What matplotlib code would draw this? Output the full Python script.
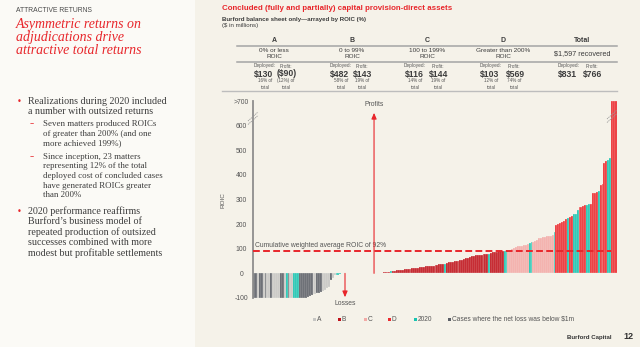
import numpy as np
import matplotlib
matplotlib.use("Agg")
import matplotlib.pyplot as plt
from matplotlib.lines import Line2D
from matplotlib.patches import Rectangle

W, H = 640, 347

# ROIC (%) of concluded cases, sorted; losses first, then profits
loss_roic = [-100, -100, -100, -100, -100, -100, -100,
             -100, -100, -100, -100, -100, -100, -100,
             -100, -100, -100, -100, -100, -100, -100,
             -100, -100, -100, -100, -100, -100, -98, -96,
             -92, -88, -84, -82, -80, -78, -74, -70, -66, -60, -55,
             -28, -20, -7, -5, -5, -4]
loss_cat = ['G', 'G', 'A', 'G', 'G', 'A', 'G',
            'A', 'A', 'G', 'A', 'A', 'A', 'A',
            'G', 'G', 'A', 'T', 'G', 'A', 'A',
            'T', 'T', 'T', 'G', 'G', 'G', 'G', 'G',
            'G', 'G', 'A', 'A', 'G', 'G', 'G', 'A', 'A', 'A', 'A',
            'G', 'A', 'A', 'T', 'T', 'T']

profit_roic = [1, 1, 2,
               3, 4, 5, 6, 7,
               8,
               10, 11, 12, 13, 14, 15, 16, 17, 18, 19, 20, 21, 22, 23, 24, 25,
               27, 28, 29, 30, 30, 31, 32,
               36, 37, 38, 38,
               40,
               44, 45, 46, 48, 50, 51, 52, 53, 55,
               60, 61, 63, 66, 70, 72, 73, 74, 75, 76, 77, 78, 79,
               80,
               84, 85, 86, 87, 90, 91, 92,
               92, 93,
               94, 96, 99, 103, 106, 110, 112, 113, 114, 116, 118,
               124, 126,
               128, 132, 137, 142, 145, 146, 148, 150, 152, 153, 155,
               166,
               196, 200, 206, 210, 214, 219,
               223,
               230, 232,
               240, 242, 257,
               270, 271, 274, 278,
               279, 280,
               282, 325, 328, 332,
               336,
               359, 362, 447, 456,
               462, 467,
               700, 700, 700]
profit_cat = (['C'] * 3 + ['B'] * 5 + ['T'] + ['B'] * 16 + ['B'] * 7 + ['B'] * 4
              + ['T'] + ['B'] * 9 + ['B'] * 13 + ['T'] + ['B'] * 7 + ['T'] * 2
              + ['C'] * 11 + ['T'] * 2 + ['C'] * 11 + ['T'] + ['D'] * 6 + ['T']
              + ['D'] * 2 + ['T'] * 3 + ['D'] * 4 + ['T'] * 2 + ['D'] * 4
              + ['T'] + ['D'] * 4 + ['T'] * 2 + ['D'] * 3)

avg_roic = 92

col_letters = ['A', 'B', 'C', 'D', 'Total']
col_ranges = ['0% or less\nROIC', '0 to 99%\nROIC', '100 to 199%\nROIC',
              'Greater than 200%\nROIC', '$1,597 recovered']
deployed = ['$130', '$482', '$116', '$103', '$831']
profit = ['($90)', '$143', '$144', '$569', '$766']
deployed_pct = ['16% of\ntotal', '58% of\ntotal', '14% of\ntotal', '12% of\ntotal', '']
profit_pct = ['(12%) of\ntotal', '19% of\ntotal', '19% of\ntotal', '74% of\ntotal', '']

legend_keys = ['A', 'B', 'C', 'D', 'T', 'G']
legend_labels = ['A', 'B', 'C', 'D', '2020', 'Cases where the net loss was below $1m']

colors = {'G': '#5b5f66', 'A': '#c6c6c3', 'B': '#c0111a', 'C': '#f3aaa6',
          'D': '#ec2a2e', 'T': '#16c4b1'}
red = '#e8262b'
txt = '#3c3c3c'
bg_right = '#f5f2e9'
bg_left = '#fbfaf6'

sans = ['Liberation Sans', 'DejaVu Sans']
serif = ['Liberation Serif', 'DejaVu Serif']


def fx(x):
    return x / W


def fy(y):
    return 1 - y / H


def hline(x1, x2, y, **kw):
    fig.add_artist(Line2D([fx(x1), fx(x2)], [fy(y), fy(y)],
                          transform=fig.transFigure, **kw))


fig = plt.figure(figsize=(W / 100, H / 100), dpi=100)
fig.patch.set_facecolor(bg_right)
fig.add_artist(Rectangle((0, 0), fx(195), 1, transform=fig.transFigure,
                         facecolor=bg_left, edgecolor='none', zorder=0))

# left panel text
fig.text(fx(16), fy(10), 'ATTRACTIVE RETURNS', fontsize=4.9, color='#4a4a4a',
         family=sans, va='center')
for i, line in enumerate(['Asymmetric returns on', 'adjudications drive',
                          'attractive total returns']):
    fig.text(fx(16), fy(28 + 13 * i), line, fontsize=10, color=red,
             family=serif, style='italic', va='baseline')

bullets = [
    (0, 101, 'Realizations during 2020 included'),
    (0, 111, 'a number with outsized returns'),
    (1, 124, 'Seven matters produced ROICs'),
    (2, 134, 'of greater than 200% (and one'),
    (2, 143, 'more achieved 199%)'),
    (1, 157, 'Since inception, 23 matters'),
    (2, 166, 'representing 12% of the total'),
    (2, 176, 'deployed cost of concluded cases'),
    (2, 185.5, 'have generated ROICs greater'),
    (2, 195, 'than 200%'),
    (0, 211, '2020 performance reaffirms'),
    (0, 221.5, 'Burford\u2019s business model of'),
    (0, 232, 'repeated production of outsized'),
    (0, 242.5, 'successes combined with more'),
    (0, 253, 'modest but profitable settlements'),
]
first_main = {101, 211}
for lvl, y, s in bullets:
    if lvl == 0:
        fig.text(fx(28), fy(y), s, fontsize=7.2, color=txt, family=serif, va='center')
        if y in first_main:
            fig.text(fx(17), fy(y), '\u2022', fontsize=6, color=red, va='center')
    else:
        fig.text(fx(43), fy(y), s, fontsize=6.4, color=txt, family=serif, va='center')
        if lvl == 1:
            fig.text(fx(30), fy(y), '\u2013', fontsize=6, color=red, va='center')

# header on the right
fig.text(fx(222), fy(9), 'Concluded (fully and partially) capital provision-direct assets',
         fontsize=5.7, color=red, family=sans, weight='bold', va='center')
fig.text(fx(222), fy(19), 'Burford balance sheet only\u2014arrayed by ROIC (%)',
         fontsize=4.4, color=txt, family=sans, weight='bold', va='center')
fig.text(fx(222), fy(26), '($ in millions)', fontsize=4.4, color=txt, family=sans, va='center')

# summary table
centers = [274, 352, 427, 503, 582]
dep_x = [265, 341, 415, 491, 569]
pro_x = [286, 362, 438, 514, 592]
for k in range(5):
    fig.text(fx(centers[k]), fy(41), col_letters[k], fontsize=5, color=txt,
             family=sans, weight='bold', ha='center', va='center')
    y_rng = 54 if k == 4 else 53.5
    fig.text(fx(centers[k]), fy(y_rng), col_ranges[k], fontsize=4.6 if k < 4 else 5.2,
             color=txt, family=sans, ha='center', va='center', linespacing=1.15)
    fig.text(fx(dep_x[k]), fy(66), 'Deployed:', fontsize=3.4, color='#555555',
             family=sans, ha='center', va='center')
    fig.text(fx(pro_x[k]), fy(66), 'Profit:', fontsize=3.4, color='#555555',
             family=sans, ha='center', va='center')
    fig.text(fx(dep_x[k] - 1), fy(74), deployed[k], fontsize=6.2, color=txt,
             family=sans, weight='bold', ha='center', va='center')
    fig.text(fx(pro_x[k] + 1), fy(74), profit[k], fontsize=6.2, color=txt,
             family=sans, weight='bold', ha='center', va='center')
    if deployed_pct[k]:
        fig.text(fx(dep_x[k]), fy(84), deployed_pct[k], fontsize=3.3, color='#555555',
                 family=sans, ha='center', va='center', linespacing=1.3)
        fig.text(fx(pro_x[k]), fy(84), profit_pct[k], fontsize=3.3, color='#555555',
                 family=sans, ha='center', va='center', linespacing=1.3)
for y in (45.5, 62):
    hline(237, 617, y, color='#a4a4a4', lw=1.1)
hline(222, 617, 90.5, color='#bdbdbd', lw=1.0)

# bar chart
pitch = 1.92
ax = fig.add_axes([fx(253), fy(298), (620 - 253) / W, (298 - 101) / H])
ax.set_facecolor('none')
x_loss = np.arange(len(loss_roic))
x_profit = (375 - 253) / pitch + np.arange(len(profit_roic))
ax.bar(x_loss, loss_roic, width=1, align='edge',
       color=[colors[c] for c in loss_cat], edgecolor='#f7f5ef', linewidth=0.18)
ax.bar(x_profit, profit_roic, width=1, align='edge',
       color=[colors[c] for c in profit_cat], edgecolor='#f7f5ef', linewidth=0.18)
ax.plot([0, x_profit[-3]], [avg_roic, avg_roic], color=red, lw=1.4,
        ls=(0, (3.5, 1.7)), zorder=5)
ax.text(1, avg_roic + 22, 'Cumulative weighted average ROIC of 92%', fontsize=4.9,
        color='#555555', family=sans, va='center')

# profit / loss arrows
xp = x_profit[0] - 0.5
ax.annotate('', xy=(xp, 652), xytext=(xp, 0),
            arrowprops=dict(arrowstyle='-|>,head_length=0.35,head_width=0.15',
                            color=red, lw=0.8, shrinkA=0, shrinkB=0))
ax.text(xp, 686, 'Profits', fontsize=4.9, color='#555555', family=sans,
        ha='center', va='center')
xl = (345 - 253) / pitch
ax.annotate('', xy=(xl, -97), xytext=(xl, 0), annotation_clip=False,
            arrowprops=dict(arrowstyle='-|>,head_length=0.35,head_width=0.15',
                            color=red, lw=0.8, shrinkA=0, shrinkB=0))
ax.text(xl, -121, 'Losses', fontsize=4.9, color='#555555', family=sans,
        ha='center', va='center', clip_on=False)

ax.set_xlim(0, (620 - 253) / pitch)
ax.set_ylim(-100, 700)
ticks = [-100, 0, 100, 200, 300, 400, 500, 600, 700]
ax.set_yticks(ticks)
ax.set_yticklabels([str(t) for t in ticks[:-1]] + ['>700'], fontsize=4.9,
                   color='#555555', family=sans, ha='center')
ax.tick_params(axis='y', length=0, pad=8.5)
ax.set_xticks([])
for s in ('top', 'right', 'bottom'):
    ax.spines[s].set_visible(False)
ax.spines['left'].set_color('#8e8e8e')
ax.spines['left'].set_linewidth(1.3)
fig.text(fx(223), fy(200), 'ROIC', rotation=90, fontsize=4.6, color='#555555',
         family=sans, ha='center', va='center')

# axis break marks
for x0, y0 in ((248, 121), (607, 119)):
    for dy in (0, 3.5):
        fig.add_artist(Line2D([fx(x0), fx(x0 + 10)], [fy(y0 + dy), fy(y0 + dy - 9)],
                              transform=fig.transFigure, color='#9a9a9a', lw=0.6,
                              ls=(0, (1.5, 0.8))))

# legend
leg_x = [314, 339, 365, 389, 415, 449]
for key, lab, x in zip(legend_keys, legend_labels, leg_x):
    fig.add_artist(Rectangle((fx(x - 1.5), fy(320.8)), 3.2 / W, 3.2 / H,
                             transform=fig.transFigure, facecolor=colors[key],
                             edgecolor='none'))
    fig.text(fx(x + 3), fy(319.3), lab, fontsize=4.8, color='#555555', family=sans,
             va='center')

# footer
fig.text(fx(612), fy(337), 'Burford Capital', fontsize=4.4, color='#333333',
         family=sans, weight='bold', ha='right', va='center')
fig.text(fx(623), fy(336.5), '12', fontsize=6.5, color='#333333', family=sans,
         weight='bold', va='center')

fig.savefig('out.png', dpi=100, facecolor=fig.get_facecolor())
